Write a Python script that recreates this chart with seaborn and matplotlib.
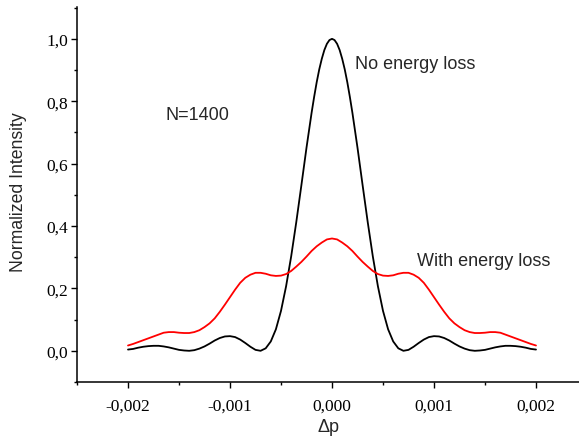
import numpy as np
import pandas as pd
import matplotlib
matplotlib.use("Agg")
import matplotlib.pyplot as plt
from matplotlib.ticker import MultipleLocator, FuncFormatter
import seaborn as sns

# sample positions (delta p) for the red curve, step 0.00005 from -0.002 to 0.002
dp = np.linspace(-0.002, 0.002, 81)

with_loss = [0.017, 0.022, 0.028, 0.034, 0.040, 0.046, 0.052, 0.058, 0.060, 0.060,
             0.058, 0.057, 0.057, 0.060, 0.066, 0.076, 0.088, 0.104, 0.125, 0.148,
             0.172, 0.196, 0.218, 0.234, 0.244, 0.250, 0.250, 0.247, 0.242, 0.240,
             0.241, 0.246, 0.256, 0.270, 0.285, 0.302, 0.320, 0.335, 0.347, 0.357,
             0.360,
             0.357, 0.347, 0.335, 0.320, 0.302, 0.285, 0.270, 0.256, 0.246, 0.241,
             0.240, 0.242, 0.247, 0.250, 0.250, 0.244, 0.234, 0.218, 0.196, 0.172,
             0.148, 0.125, 0.104, 0.088, 0.076, 0.066, 0.060, 0.057, 0.057, 0.058,
             0.060, 0.060, 0.058, 0.052, 0.046, 0.040, 0.034, 0.028, 0.022, 0.017]

# black curve sampled finer around the main peak
dp_black = np.concatenate([np.linspace(-0.002, -0.00025, 36),
                           np.linspace(-0.0002, 0.0002, 17),
                           np.linspace(0.00025, 0.002, 36)])

no_loss_left = [0.004, 0.006, 0.010, 0.013, 0.015, 0.016, 0.016, 0.014, 0.011, 0.007,
                0.003, 0.001, 0.000, 0.002, 0.007, 0.014, 0.023, 0.033, 0.041, 0.046,
                0.047, 0.044, 0.036, 0.025, 0.013, 0.003, 0.000, 0.008, 0.030, 0.069,
                0.128, 0.207, 0.303, 0.413, 0.531, 0.651]
no_loss_peak = [0.763, 0.814, 0.861, 0.902, 0.936, 0.964, 0.984, 0.996, 1.000,
                0.996, 0.984, 0.964, 0.936, 0.902, 0.861, 0.814, 0.763]
no_loss_right = [0.651, 0.531, 0.413, 0.303, 0.207, 0.128, 0.069, 0.030, 0.008, 0.000,
                 0.003, 0.013, 0.025, 0.036, 0.044, 0.047, 0.046, 0.041, 0.033, 0.023,
                 0.014, 0.007, 0.002, 0.000, 0.001, 0.003, 0.007, 0.011, 0.014, 0.016,
                 0.016, 0.015, 0.013, 0.010, 0.006, 0.004]
no_loss = no_loss_left + no_loss_peak + no_loss_right

x_ticks = [-0.002, -0.001, 0.000, 0.001, 0.002]
y_ticks = [0.0, 0.2, 0.4, 0.6, 0.8, 1.0]

sns.set_style("ticks")
plt.rcParams['font.family'] = ['Liberation Sans', 'DejaVu Sans']
plt.rcParams['lines.solid_joinstyle'] = 'round'

fig = plt.figure(figsize=(5.79, 4.39), dpi=100)
ax = fig.add_axes([77 / 579, 1 - 383 / 439, 510 / 579, 375 / 439])

df_black = pd.DataFrame({"dp": dp_black, "I": no_loss})
df_red = pd.DataFrame({"dp": dp, "I": with_loss})
sns.lineplot(data=df_black, x="dp", y="I", color="black", lw=1.3, ax=ax)
sns.lineplot(data=df_red, x="dp", y="I", color="red", lw=1.3, ax=ax)

ax.set_xlim(-0.0025, 0.0025)
ax.set_ylim(-0.1, 1.102)
ax.set_xticks(x_ticks)
ax.set_yticks(y_ticks)
ax.xaxis.set_minor_locator(MultipleLocator(0.0005))
ax.yaxis.set_minor_locator(MultipleLocator(0.1))
ax.xaxis.set_major_formatter(FuncFormatter(lambda v, p: f"{v:.3f}".replace(".", ",").replace("−", "-")))
ax.yaxis.set_major_formatter(FuncFormatter(lambda v, p: f"{v:.1f}".replace(".", ",")))

for s in ["top", "right"]:
    ax.spines[s].set_visible(False)
for s in ["left", "bottom"]:
    ax.spines[s].set_linewidth(1.1)
    ax.spines[s].set_color("black")

ax.tick_params(axis="both", which="major", direction="out", length=4.5, width=1.0,
               colors="black", labelsize=12.5)
ax.tick_params(axis="both", which="minor", direction="out", length=2.5, width=1.0,
               colors="black")
ax.tick_params(axis="x", which="major", pad=7)
ax.tick_params(axis="y", which="major", pad=2)
for lab in ax.get_xticklabels() + ax.get_yticklabels():
    lab.set_fontfamily(["Liberation Serif", "DejaVu Serif"])

ax.set_xlabel("Δp", fontsize=13)
ax.set_ylabel("Normalized Intensity", fontsize=12.7)
ax.xaxis.set_label_coords((329 - 77) / 510, (383 - 419) / 375)
ax.yaxis.set_label_coords((27 - 77) / 510, 0.510)

ax.text(-0.001633, 0.757, "N=1400", fontsize=13, ha="left", va="center")
ax.text(0.000222, 0.920, "No energy loss", fontsize=13, ha="left", va="center")
ax.text(0.000837, 0.291, "With energy loss", fontsize=13, ha="left", va="center")

fig.savefig("out.png", dpi=100)
